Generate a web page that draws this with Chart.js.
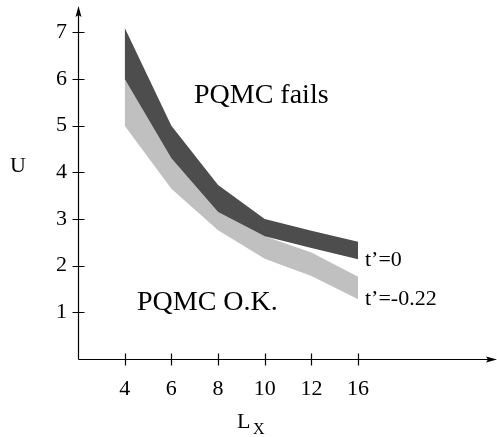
<!DOCTYPE html>
<html lang="en">

<head>
  <meta charset="UTF-8">
  <script src="https://cdn.jsdelivr.net/npm/chart.js"></script>
  <title>PQMC phase</title>
  <style>
    html, body {
      margin: 0;
      padding: 0;
      background: #fff;
    }
    #wrap {
      width: 497px;
      height: 437px;
    }
    .probe {
      position: absolute;
      left: -1000px;
      font-family: "Liberation Serif";
    }
  </style>
</head>

<body>
  <span class="probe">PQMC 0123 t’=</span>
  <div id="wrap"><canvas id="myChart"></canvas></div>

  <script>
    // data
    const lx = ['4', '6', '8', '10', '12', '16'];
    const yTicks = [1, 2, 3, 4, 5, 6, 7];
    const darkUpper = [7.1, 5.0, 3.73, 3.0, 2.75, 2.51];   // t'=0
    const darkLower = [6.0, 4.3, 3.15, 2.63, 2.38, 2.14];
    const lightUpper = [6.0, 4.3, 3.15, 2.63, 2.28, 1.76]; // t'=-0.22
    const lightLower = [5.0, 3.65, 2.76, 2.15, 1.78, 1.28];

    const DARK = 'rgb(77, 77, 77)';
    const LIGHT = 'rgb(192, 192, 192)';
    const SERIF = '"Liberation Serif", "DejaVu Serif", serif';

    const pts = arr => arr.map((v, i) => ({ x: i + 1, y: v }));

    function band(lower, upper, color) {
      return [
        { data: pts(lower), borderWidth: 0, pointRadius: 0, fill: false },
        { data: pts(upper), borderWidth: 0, pointRadius: 0, fill: '-1', backgroundColor: color }
      ];
    }

    // axes with crossing ticks, arrows and the free text
    const decor = {
      id: 'decor',
      afterDraw(chart) {
        const { ctx, scales: { x, y } } = chart;
        const x0 = Math.round(x.getPixelForValue(0)) + 0.5;
        const y0 = Math.round(y.getPixelForValue(0)) + 0.5;
        ctx.save();
        ctx.strokeStyle = '#000';
        ctx.fillStyle = '#000';
        ctx.lineWidth = 1.2;

        ctx.beginPath();
        ctx.moveTo(x0, y0);
        ctx.lineTo(x0, 10);
        ctx.moveTo(x0, y0);
        ctx.lineTo(492, y0);
        yTicks.forEach(v => {
          const py = Math.round(y.getPixelForValue(v)) + 0.5;
          ctx.moveTo(x0 - 6, py);
          ctx.lineTo(x0 + 6, py);
        });
        lx.forEach((_, i) => {
          const px = Math.round(x.getPixelForValue(i + 1)) + 0.5;
          ctx.moveTo(px, y0 - 6);
          ctx.lineTo(px, y0 + 6);
        });
        ctx.stroke();

        // arrow heads
        ctx.beginPath();
        ctx.moveTo(x0, 6);
        ctx.lineTo(x0 - 3, 17);
        ctx.lineTo(x0, 15);
        ctx.lineTo(x0 + 3, 17);
        ctx.closePath();
        ctx.fill();
        ctx.beginPath();
        ctx.moveTo(497, y0);
        ctx.lineTo(486, y0 - 3);
        ctx.lineTo(488, y0);
        ctx.lineTo(486, y0 + 3);
        ctx.closePath();
        ctx.fill();

        ctx.textAlign = 'left';
        ctx.textBaseline = 'alphabetic';
        ctx.font = '28px ' + SERIF;
        ctx.fillText('PQMC fails', 194, 103);
        ctx.fillText('PQMC O.K.', 137, 310);
        ctx.font = '22px ' + SERIF;
        ctx.fillText('t\u2019=0', 365, 266);
        ctx.fillText('t\u2019=-0.22', 365, 305);
        ctx.fillText('U', 10, 172);
        ctx.fillText('L', 237, 428);
        ctx.font = '16px ' + SERIF;
        ctx.fillText('X', 253, 434);
        ctx.restore();
      }
    };

    function draw() {
      const ctx = document.getElementById('myChart').getContext('2d');
      new Chart(ctx, {
        type: 'line',
        data: {
          datasets: [
            ...band(darkLower, darkUpper, DARK),
            ...band(lightLower, lightUpper, LIGHT)
          ]
        },
        options: {
          responsive: true,
          maintainAspectRatio: false,
          animation: false,
          layout: { padding: { top: 9, right: 3.5, left: 0, bottom: 0 } },
          elements: { line: { tension: 0 } },
          plugins: {
            legend: { display: false },
            tooltip: { enabled: false }
          },
          scales: {
            x: {
              type: 'linear',
              min: 0,
              max: 8.9,
              grid: { display: false, drawTicks: false },
              border: { display: false },
              afterFit: s => {
                s.height = 78;
                s.paddingLeft = 0;
                s.paddingRight = 0;
              },
              afterBuildTicks: s => { s.ticks = lx.map((_, i) => ({ value: i + 1 })); },
              ticks: {
                maxRotation: 0,
                autoSkip: false,
                padding: 17,
                color: '#000',
                font: { family: SERIF, size: 22 },
                callback: v => lx[v - 1]
              }
            },
            y: {
              min: 0,
              max: 7.5,
              grid: { display: false, drawTicks: false },
              border: { display: false },
              afterFit: s => {
                s.width = 78;
                s.paddingTop = 0;
                s.paddingBottom = 0;
              },
              afterBuildTicks: s => { s.ticks = yTicks.map(v => ({ value: v })); },
              ticks: {
                padding: 11,
                color: '#000',
                font: { family: SERIF, size: 22 },
                callback: v => String(v)
              }
            }
          }
        },
        plugins: [decor]
      });
    }

    document.fonts.load('22px "Liberation Serif"').then(draw, draw);
  </script>
</body>

</html>
